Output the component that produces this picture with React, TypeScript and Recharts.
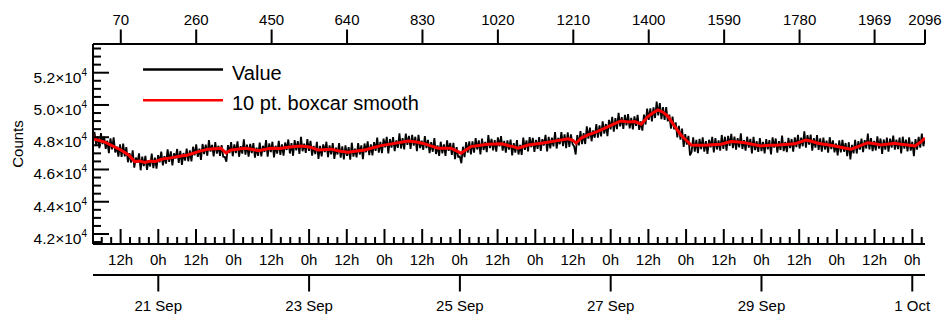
import React from 'react';
import { LineChart, Line, XAxis, YAxis, Legend } from 'recharts';

const FONT = '"Liberation Sans", Arial, Helvetica, sans-serif';

// raw "Value" series, one reading every 4 samples (sample index 0..2096)
const VALUE_STEP = 4;
const valueCounts = [
  48260, 48280, 47530, 48060, 47320, 48250, 47580, 48030, 47280, 47790, 47020, 47930, 47240, 47990, 47060, 47410, 46800, 47550, 46780, 47600,
  46810, 47390, 46450, 47010, 46420, 47190, 46120, 46740, 46430, 47000, 45950, 46800, 46210, 46840, 45980, 46570, 46190, 46990, 46090, 46730,
  46050, 46890, 46440, 47110, 46250, 46830, 46360, 47250, 46470, 47120, 46260, 47000, 46690, 47270, 46410, 47150, 46280, 47020, 46550, 47290,
  46510, 47180, 46500, 47410, 46880, 47550, 46780, 47290, 46590, 47580, 46960, 47540, 46850, 47820, 47110, 47520, 46810, 47700, 46980, 47470,
  46840, 47510, 46790, 46780, 46480, 47510, 47010, 47690, 46820, 47550, 47010, 47740, 46790, 47440, 46980, 47870, 46920, 47540, 46800, 47590,
  47010, 47630, 46730, 47350, 46850, 47670, 46810, 47470, 47090, 47820, 46800, 47620, 47080, 47720, 46750, 47470, 46980, 47780, 46910, 47560,
  46860, 47670, 47210, 47860, 46990, 47640, 46850, 47820, 47190, 47760, 46970, 48020, 47130, 47600, 47030, 47890, 47160, 47770, 46860, 47460,
  46950, 47710, 46650, 47460, 46820, 47550, 47080, 47720, 46770, 47500, 46940, 47640, 46660, 47350, 46930, 47630, 46740, 47440, 46630, 47490,
  46840, 47390, 46610, 47660, 46800, 47290, 46750, 47640, 46930, 47500, 46640, 47610, 47070, 47740, 46890, 47560, 46870, 47690, 47160, 47980,
  47040, 47710, 47010, 47910, 47370, 48020, 47000, 47890, 47350, 48000, 47140, 47800, 47340, 48240, 47300, 47950, 47250, 48230, 47520, 48080,
  47270, 48140, 47480, 48030, 47130, 48150, 47330, 47790, 47210, 48070, 47320, 47840, 47010, 47700, 47100, 47950, 46960, 47490, 46840, 47720,
  47000, 47560, 46840, 47800, 47160, 47640, 46900, 47650, 46640, 47390, 46780, 46810, 46390, 47410, 46760, 47700, 47050, 47750, 46940, 47750,
  47050, 47940, 47240, 47810, 46940, 47920, 47210, 47710, 47080, 48130, 47330, 47900, 47180, 47820, 47100, 47990, 47430, 48070, 47170, 47780,
  47040, 47810, 47230, 47850, 46870, 47640, 47050, 47820, 46930, 47520, 46910, 47980, 47220, 47810, 47120, 48010, 47390, 47960, 47090, 47830,
  47280, 48010, 47150, 47880, 47490, 48150, 47120, 48020, 47310, 47970, 47430, 48320, 47300, 47960, 47570, 48310, 47450, 48180, 47320, 48300,
  47400, 48170, 47580, 47430, 46930, 48130, 47500, 48380, 47570, 48250, 47580, 48670, 47910, 48590, 47750, 48420, 47970, 48810, 47970, 48730,
  48050, 48980, 48220, 48820, 48070, 49080, 48490, 49260, 48340, 49180, 48500, 49510, 48670, 49240, 48510, 49380, 48730, 49430, 48550, 49200,
  48480, 49290, 48700, 49380, 48460, 48980, 48410, 49400, 48790, 49780, 49080, 49790, 48980, 49850, 49190, 50210, 49360, 50120, 49120, 49870,
  49070, 49870, 48980, 49400, 48530, 49280, 48490, 48920, 47990, 48710, 47850, 48530, 47400, 48190, 47540, 48080, 46870, 47090, 48000, 47110,
  47830, 47020, 47900, 47260, 47990, 47110, 47760, 46960, 47840, 47370, 48020, 47060, 47950, 47240, 47800, 47170, 48140, 47280, 48030, 47170,
  48080, 47470, 48210, 47330, 48040, 47230, 47940, 47370, 48240, 47270, 47820, 47170, 48030, 47360, 47900, 47000, 48020, 47200, 47750, 47090,
  47950, 47140, 47710, 47000, 47880, 47250, 47820, 46940, 47990, 47350, 47920, 47040, 47760, 47210, 48100, 47140, 47710, 47080, 47960, 47330,
  47890, 47100, 47990, 47390, 48140, 47300, 47970, 47440, 48360, 47350, 48130, 47540, 48160, 47170, 47950, 47360, 48130, 47220, 47930, 47110,
  47980, 47240, 47790, 47050, 48000, 47260, 47800, 47060, 47610, 46870, 47800, 47060, 47840, 47100, 47640, 46830, 47690, 46630, 47520, 47000,
  47840, 46990, 47750, 47230, 47910, 47070, 47820, 47300, 48220, 47250, 47950, 47140, 47770, 47190, 48050, 47300, 47920, 46970, 47860, 47230,
  47970, 47100, 47910, 47360, 48100, 47230, 47850, 47270, 47970, 47000, 48030, 47300, 47850, 47120, 47990, 47170, 47720, 46830, 47880, 47230,
  48020, 47360, 48230, 47440, 47940,
];

// 10 pt. boxcar smooth
const smoothIndex = [
  0, 4, 30, 70, 90, 105, 118, 130, 145, 155, 175, 196, 218, 239, 265, 290, 322, 335, 348, 383, 400, 416, 448, 470,
  491, 524, 545, 567, 600, 620, 642, 665, 685, 705, 726, 760, 794, 815, 836, 869, 902, 927, 952, 975, 995, 1028,
  1058, 1071, 1096, 1120, 1146, 1170, 1197, 1210, 1217, 1230, 1247, 1270, 1290, 1310, 1330, 1350, 1365, 1381, 1398,
  1410, 1423, 1436, 1449, 1466, 1481, 1495, 1507, 1528, 1549, 1582, 1607, 1625, 1642, 1660, 1683, 1705, 1726, 1768,
  1796, 1810, 1826, 1850, 1869, 1890, 1910, 1930, 1952, 1970, 1985, 2020, 2035, 2053, 2071, 2085, 2096,
];
const smoothCounts = [
  48100, 47880, 47700, 47210, 46900, 46490, 46520, 46430, 46520, 46480, 46650, 46720, 46820, 46900, 47110, 47260,
  47320, 47030, 47210, 47320, 47250, 47170, 47320, 47300, 47380, 47460, 47400, 47210, 47260, 47150, 47070, 47150,
  47210, 47350, 47480, 47620, 47770, 47700, 47590, 47320, 47320, 47010, 47420, 47500, 47570, 47590, 47420, 47320,
  47520, 47600, 47690, 47790, 47900, 47800, 47630, 47950, 48140, 48350, 48560, 48800, 49010, 48950, 48970, 48810,
  49280, 49500, 49690, 49550, 49280, 48660, 48140, 47800, 47520, 47500, 47520, 47570, 47730, 47700, 47660, 47560,
  47460, 47500, 47520, 47590, 47830, 47750, 47630, 47540, 47460, 47350, 47260, 47450, 47660, 47600, 47520, 47630,
  47560, 47520, 47460, 47700, 47940,
];

const seriesNames = ['Value', '10 pt. boxcar smooth'];

// top axis: point number
const indexDomain = [0, 2096];
const indexTicks = [70, 260, 450, 640, 830, 1020, 1210, 1400, 1590, 1780, 1969, 2096];

// left axis
const countDomain = [41380, 53780];
const countMajorTicks = [42000, 44000, 46000, 48000, 50000, 52000];
const countMajorLabels = ['4.2', '4.4', '4.6', '4.8', '5.0', '5.2'];

// bottom time axes (hours relative to 21 Sep 00:00)
const hourDomain = [-20.785, 244.05];
const hourMajorTicks = [-12, 0, 12, 24, 36, 48, 60, 72, 84, 96, 108, 120, 132, 144, 156, 168, 180, 192, 204, 216, 228, 240];
const hourMajorLabels = ['12h', '0h', '12h', '0h', '12h', '0h', '12h', '0h', '12h', '0h', '12h', '0h', '12h', '0h', '12h', '0h', '12h', '0h', '12h', '0h', '12h', '0h'];
const dateTicks = [0, 48, 96, 144, 192, 240];
const dateLabels = ['21 Sep', '23 Sep', '25 Sep', '27 Sep', '29 Sep', '1 Oct'];

const valueData = valueCounts.map((v, k) => ({ i: k * VALUE_STEP, v }));
const smoothData = smoothIndex.map((i, k) => ({ i, v: smoothCounts[k] }));
// empty anchors so the time axes own a (non-drawing) series
const hourAnchor = [{ h: hourDomain[0], v: null }, { h: hourDomain[1], v: null }];

const countAllTicks: number[] = [];
for (let c = 41500; c <= 53500; c += 500) countAllTicks.push(c);
const hourAllTicks: number[] = [];
for (let h = -18; h <= 243; h += 3) hourAllTicks.push(h);

const AX = { stroke: '#000', strokeWidth: 2 };

const IndexTick = (p: any) => (
  <g>
    <line x1={p.x} y1={p.y} x2={p.x} y2={p.y - 14.5} stroke="#000" strokeWidth={2} />
    <text x={p.x} y={p.y - 19} textAnchor="middle" fontSize={15} fontFamily={FONT} fill="#000">
      {p.payload.value}
    </text>
  </g>
);

const CountTick = (p: any) => {
  const k = countMajorTicks.indexOf(p.payload.value);
  const major = k >= 0;
  return (
    <g>
      <line x1={p.x} y1={p.y} x2={p.x + (major ? 16 : 8)} y2={p.y} stroke="#000" strokeWidth={2} />
      {major && (
        <text x={p.x - 6} y={p.y + 10} textAnchor="end" fontSize={15.5} fontFamily={FONT} fill="#000">
          {countMajorLabels[k]}×10
          <tspan fontSize={10} dy={-7}>4</tspan>
        </text>
      )}
    </g>
  );
};

const HourTick = (p: any) => {
  const k = hourMajorTicks.indexOf(p.payload.value);
  const major = k >= 0;
  return (
    <g>
      <line x1={p.x} y1={p.y} x2={p.x} y2={p.y - (major ? 15 : 7)} stroke="#000" strokeWidth={2} />
      {major && (
        <text x={p.x} y={p.y + 21} textAnchor="middle" fontSize={15} fontFamily={FONT} fill="#000">
          {hourMajorLabels[k]}
        </text>
      )}
    </g>
  );
};

const DateTick = (p: any) => {
  const k = dateTicks.indexOf(p.payload.value);
  return (
    <g>
      <line x1={p.x} y1={p.y} x2={p.x} y2={p.y + 16.5} stroke="#000" strokeWidth={2} />
      <text x={p.x} y={p.y + 36} textAnchor="middle" fontSize={15} fontFamily={FONT} fill="#000">
        {dateLabels[k]}
      </text>
    </g>
  );
};

const CountsLabel = (p: any) => {
  const vb = p.viewBox || { x: 0, y: 44, width: 93, height: 200 };
  const cx = vb.x + 23;
  const cy = vb.y + vb.height / 2;
  return (
    <text x={cx} y={cy} transform={`rotate(-90 ${cx} ${cy})`} textAnchor="middle" fontSize={15} fontFamily={FONT} fill="#000">
      Counts
    </text>
  );
};

const renderLegend = () => (
  <svg width={320} height={64} style={{ display: 'block' }}>
    <line x1={3} y1={14.5} x2={83} y2={14.5} stroke="#000" strokeWidth={2.5} />
    <text x={92} y={24.5} fontSize={20} fontFamily={FONT} fill="#000">{seriesNames[0]}</text>
    <line x1={3} y1={45.3} x2={83} y2={45.3} stroke="#ff0000" strokeWidth={2.5} />
    <text x={92} y={55.3} fontSize={20} fontFamily={FONT} fill="#000">{seriesNames[1]}</text>
  </svg>
);

export default function App() {
  return (
    <div style={{ position: 'absolute', left: 0, top: 0, width: 943, height: 316, background: '#fff' }}>
      <LineChart width={943} height={316} margin={{ top: 0, right: 18, bottom: 0, left: 0 }}>
        <XAxis
          xAxisId="a_idx"
          orientation="top"
          type="number"
          dataKey="i"
          domain={indexDomain}
          allowDataOverflow
          ticks={indexTicks}
          interval={0}
          height={44}
          tickSize={0}
          tickMargin={0}
          tickLine={false}
          axisLine={AX}
          tick={<IndexTick />}
        />
        <XAxis
          xAxisId="b_hrs"
          orientation="bottom"
          type="number"
          dataKey="h"
          domain={hourDomain}
          allowDataOverflow
          ticks={hourAllTicks}
          interval={0}
          height={31}
          tickSize={0}
          tickMargin={0}
          tickLine={false}
          axisLine={AX}
          tick={<HourTick />}
        />
        <XAxis
          xAxisId="c_date"
          orientation="bottom"
          type="number"
          dataKey="h"
          domain={hourDomain}
          allowDataOverflow
          ticks={dateTicks}
          interval={0}
          height={41}
          tickSize={0}
          tickMargin={0}
          tickLine={false}
          axisLine={AX}
          tick={<DateTick />}
        />
        <YAxis
          yAxisId="c"
          orientation="left"
          type="number"
          domain={countDomain}
          allowDataOverflow
          ticks={countAllTicks}
          interval={0}
          width={93}
          tickSize={0}
          tickMargin={0}
          tickLine={false}
          axisLine={AX}
          tick={<CountTick />}
          label={<CountsLabel />}
        />
        <Legend
          layout="horizontal"
          verticalAlign="middle"
          align="center"
          wrapperStyle={{ left: 140, top: 55, width: 320, height: 64 }}
          content={renderLegend}
        />
        <Line
          xAxisId="b_hrs"
          yAxisId="c"
          data={hourAnchor}
          dataKey="v"
          stroke="none"
          dot={false}
          legendType="none"
          isAnimationActive={false}
        />
        <Line
          xAxisId="c_date"
          yAxisId="c"
          data={hourAnchor}
          dataKey="v"
          stroke="none"
          dot={false}
          legendType="none"
          isAnimationActive={false}
        />
        <Line
          xAxisId="a_idx"
          yAxisId="c"
          data={valueData}
          dataKey="v"
          name={seriesNames[0]}
          stroke="#000"
          strokeWidth={1.8}
          dot={false}
          type="linear"
          isAnimationActive={false}
        />
        <Line
          xAxisId="a_idx"
          yAxisId="c"
          data={smoothData}
          dataKey="v"
          name={seriesNames[1]}
          stroke="#ff0000"
          strokeWidth={3}
          dot={false}
          type="linear"
          isAnimationActive={false}
        />
      </LineChart>
    </div>
  );
}
